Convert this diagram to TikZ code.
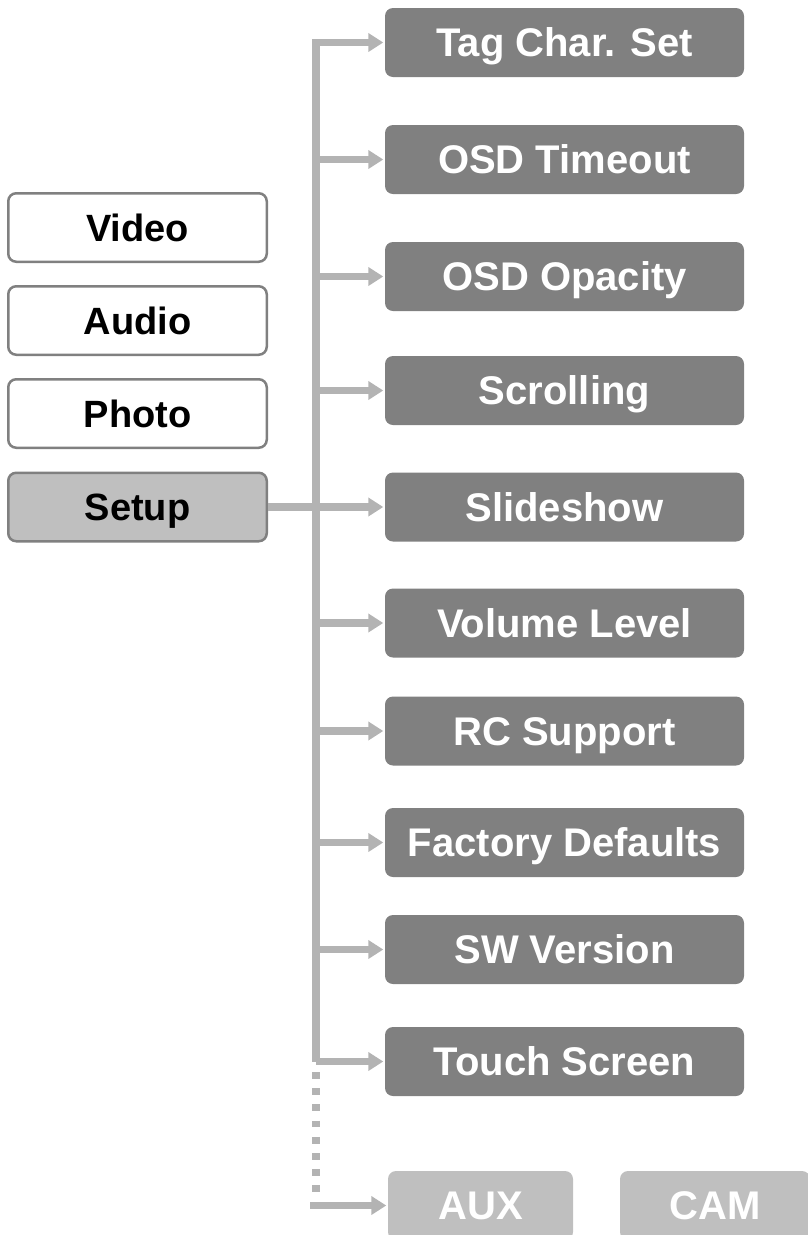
\documentclass[tikz,border=0pt]{standalone}
\usepackage{fontspec}
\setmainfont{Liberation Sans}
\usetikzlibrary{arrows.meta}
\definecolor{darkbox}{HTML}{808080}
\definecolor{connc}{HTML}{B3B3B3}
\definecolor{lightbox}{HTML}{BFBFBF}
\begin{document}
\begin{tikzpicture}[x=1pt,y=-1pt,
  menubox/.style={draw=darkbox, line width=2.5pt, rounded corners=8pt, fill=white,
    minimum width=258.5pt, minimum height=68.5pt, inner sep=0pt,
    font=\fontsize{38}{40}\selectfont\bfseries, text=black,
    text height=27.2pt, text depth=0pt},
  subbox/.style={fill=darkbox, rounded corners=8pt,
    minimum width=359pt, minimum height=69pt, inner sep=0pt,
    font=\fontsize{40}{42}\selectfont\bfseries, text=white,
    text height=28.6pt, text depth=0pt},
  extbox/.style={subbox, fill=lightbox, minimum width=185pt},
  conn/.style={draw=connc, line width=7.5pt},
  arr/.style={conn, -{Triangle[length=15pt,width=18pt]}, shorten >=1.5pt}]
\useasboundingbox (0,0) rectangle (807,1235);
% left menu
\node[menubox] (video) at (137.5,227.5) {Video};
\node[menubox] (audio) at (137.5,320.5) {Audio};
\node[menubox] (photo) at (137.5,413.5) {Photo};
\node[menubox, fill=lightbox] (setup) at (137.5,507) {Setup};
% submenu
\node[subbox] (s1) at (564.5,42.5) {Tag Char. Set};
\node[subbox] (s2) at (564.5,159.5) {OSD Timeout};
\node[subbox] (s3) at (564.5,276.5) {OSD Opacity};
\node[subbox] (s4) at (564.5,390.5) {Scrolling};
\node[subbox] (s5) at (564.5,507) {Slideshow};
\node[subbox] (s6) at (564.5,623) {Volume Level};
\node[subbox] (s7) at (564.5,731) {RC Support};
\node[subbox] (s8) at (564.5,842.5) {Factory Defaults};
\node[subbox] (s9) at (564.5,949.5) {SW Version};
\node[subbox] (s10) at (564.5,1061.5) {Touch Screen};
\node[extbox] (aux) at (480.5,1205.5) {AUX};
\node[extbox, minimum width=190pt] (cam) at (715,1205.5) {CAM};
% connectors
\coordinate (tbot) at (316,1061.5);
\draw[arr] (tbot) |- (s1.west);
\foreach \n in {s2,s3,s4,s6,s7,s8,s9,s10}
  \draw[arr] (tbot |- \n.west) -- (\n.west);
\draw[arr] (setup.east) -- (s5.west);
\coordinate (dstart) at (316,1072);
\coordinate (dend) at (316,1193);
\draw[conn, dash pattern=on 6.7pt off 9.5pt] (dstart) -- (dend);
\coordinate (bstart) at (310,1205.5);
\draw[arr] (bstart) -- (aux.west);
\end{tikzpicture}
\end{document}
